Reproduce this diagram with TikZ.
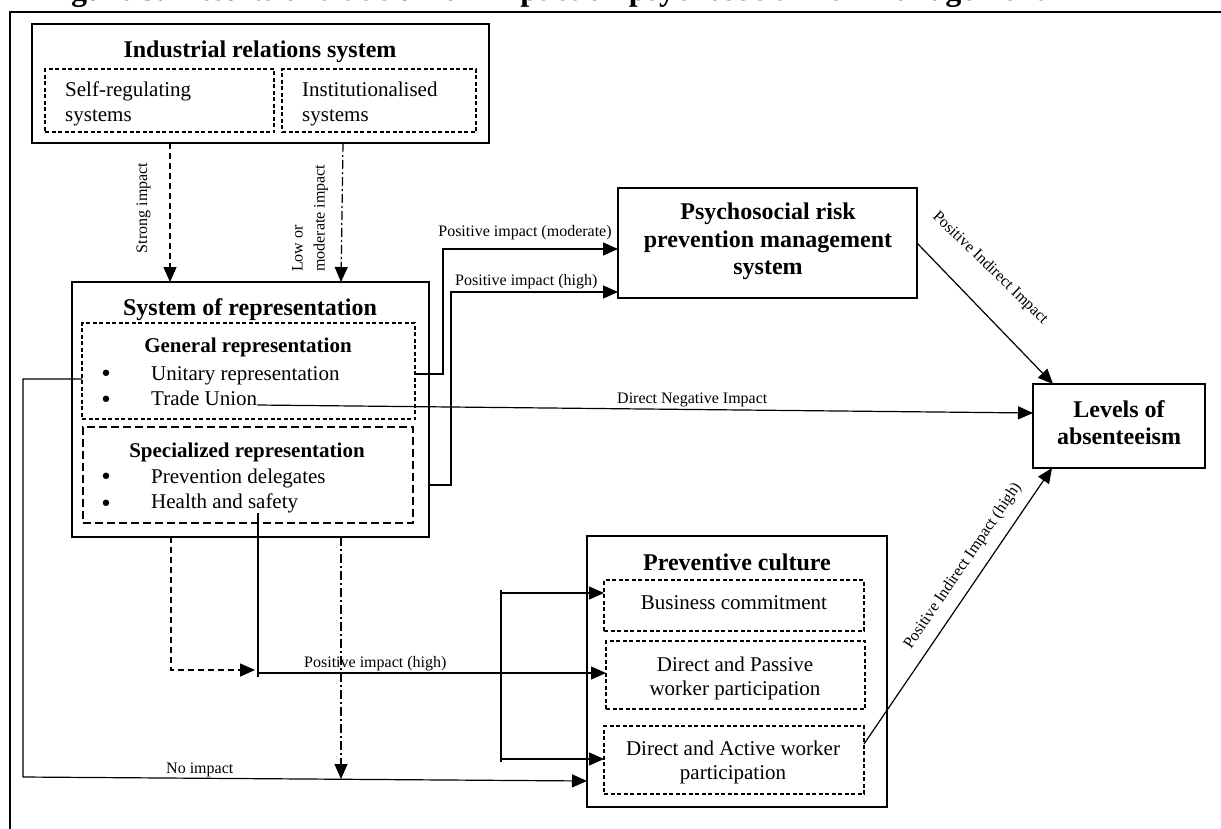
\documentclass[tikz,border=0pt]{standalone}
\usepackage{fontspec}
\setmainfont{Liberation Serif}
\newfontfamily\bulletfont{DejaVu Sans}
\usetikzlibrary{arrows.meta}
\newcommand\rbox[6]{\node[#2, minimum width={#5-#3}, minimum height={#6-#4}] (#1) at ({(#3+#5)/2},{(#4+#6)/2}) {};}
\begin{document}
\begin{tikzpicture}[x=1pt,y=-1pt,
  solidbox/.style={draw, line width=1.4pt, inner sep=0pt, outer sep=0pt},
  dashbox/.style={draw, line width=1.1pt, dash pattern=on 4pt off 2.5pt, inner sep=0pt, outer sep=0pt},
  longdashbox/.style={draw, line width=1.1pt, dash pattern=on 8pt off 4pt, inner sep=0pt, outer sep=0pt},
  conn/.style={line width=1.2pt},
  arr/.style={-{Triangle[length=15pt,width=13pt]}},
  dashconn/.style={conn, dash pattern=on 6pt off 4pt},
  dotconn/.style={conn, dash pattern=on 9pt off 3pt on 2pt off 3pt},
  hd/.style={inner sep=0pt, anchor=base, font=\fontsize{24}{27}\selectfont\bfseries},
  sh/.style={inner sep=0pt, anchor=base, font=\fontsize{21}{25}\selectfont\bfseries},
  bd/.style={inner sep=0pt, anchor=base, font=\fontsize{21}{25}\selectfont},
  bdl/.style={bd, anchor=base west},
  bul/.style={inner sep=0pt, anchor=base, font=\bulletfont\fontsize{22}{24}\selectfont},
  lb/.style={inner sep=0pt, anchor=base, font=\fontsize{16}{20}\selectfont},
  lbl/.style={lb, anchor=base west},
]
\useasboundingbox (0,0) rectangle (1221,828);
\begin{scope}
\clip (0,0) rectangle (1221,828);
\node[inner sep=0pt, anchor=base west, font=\fontsize{32}{36}\selectfont\bfseries] (title) at (42.5,0.5) {Figure 3. Results of trade union impact on psychosocial risk management};
\end{scope}
% frame
\draw[line width=2.6pt] (10,829) -- (10,12) -- (1222,12);
% boxes
\rbox{irs}{solidbox}{32}{24}{489}{143}
\rbox{selfreg}{dashbox}{45}{69}{274}{132}
\rbox{inst}{dashbox}{282}{69}{476}{132}
\rbox{sor}{solidbox}{72}{282}{429}{537}
\rbox{gen}{dashbox}{82}{323}{415}{419}
\rbox{spec}{longdashbox}{83}{427}{413}{523}
\rbox{psy}{solidbox}{618}{188}{917}{298}
\rbox{lev}{solidbox}{1033}{384}{1205}{468}
\rbox{prev}{solidbox}{587}{536}{887}{807}
\rbox{bus}{dashbox}{604}{580}{864}{631}
\rbox{pas}{dashbox}{606}{641}{865}{709}
\rbox{act}{dashbox}{604}{726}{864}{794}
% texts
\node[hd] (irsT) at (260,57) {Industrial relations system};
\node[bdl] (sr1) at (65,96) {Self-regulating};
\node[bdl] (sr2) at (65,121) {systems};
\node[bdl] (in1) at (302,96) {Institutionalised};
\node[bdl] (in2) at (302,121) {systems};
\node[hd] (sorT) at (250,315) {System of representation};
\node[sh] (genT) at (248,352) {General representation};
\node[bul] (b1) at (106,381.5) {•};
\node[bdl] (ur) at (151,380) {Unitary representation};
\node[bul] (b2) at (106,407.5) {•};
\node[bdl] (tu) at (151,405) {Trade Union};
\node[sh] (specT) at (247,457) {Specialized representation};
\node[bul] (b3) at (106,484.5) {•};
\node[bdl] (pd) at (151,483) {Prevention delegates};
\node[bul] (b4) at (106,511.5) {•};
\node[bdl] (hs) at (151,508) {Health and safety};
\node[hd] (psy1) at (768,219) {Psychosocial risk};
\node[hd] (psy2) at (768,247) {prevention management};
\node[hd] (psy3) at (768,274) {system};
\node[hd] (lev1) at (1119,417) {Levels of};
\node[hd] (lev2) at (1119,444) {absenteeism};
\node[hd] (prevT) at (737,570) {Preventive culture};
\node[bd] (busT) at (734,609) {Business commitment};
\node[bd] (pas1) at (735,671) {Direct and Passive};
\node[bd] (pas2) at (735,695) {worker participation};
\node[bd] (act1) at (733,755) {Direct and Active worker};
\node[bd] (act2) at (733,779) {participation};
% labels
\node[lb, rotate=90, anchor=center] (lStrong) at (143.5,208) {Strong impact};
\node[lb, rotate=90, anchor=north west, align=left, font=\fontsize{16}{22}\selectfont] (lLow) at (292,272) {Low or\\moderate impact};
\node[lb] (lMod) at (525,236) {Positive impact (moderate)};
\node[lbl] (lHigh1) at (455,285) {Positive impact (high)};
\node[lbl] (lNeg) at (617,403) {Direct Negative Impact};
\node[lb, rotate=-44, anchor=center] (lInd) at (990,268) {Positive Indirect Impact};
\node[lbl] (lHigh2) at (304,667) {Positive impact (high)};
\node[lbl] (lNo) at (166,773) {No impact};
\node[lb, rotate=55.9, anchor=center] (lIndH) at (963,566) {Positive Indirect Impact (high)};
% connectors
\draw[dashconn, arr] (170,0 |- irs.south) -- (170,0 |- sor.north);
\draw[dotconn, arr] (343,0 |- irs.south) -- (341,0 |- sor.north);
\draw[conn, arr] (gen.east |- 0,374) -- (443,374) -- (443,249) -- (psy.west |- 0,249);
\draw[conn, arr] (sor.east |- 0,485) -- (451,485) -- (451,292) -- (psy.west |- 0,292);
\draw[conn, arr] (tu.base east) -- (lev.west |- 0,413);
\draw[conn, arr] (gen.west |- 0,379) -- (23,379) -- (23,777) -- (prev.west |- 0,781);
\draw[dotconn, arr] (341,0 |- sor.south) -- (341,779);
\draw[dashconn, arr] (171,0 |- sor.south) -- (171,670) -- (255,670);
\draw[conn] (hs.south -| 258,0) -- (258,677);
\draw[conn, arr] (258,673) -- (pas.west |- 0,673);
\draw[conn] (501,590) -- (501,762);
\draw[conn, arr] (501,593) -- (bus.west |- 0,593);
\draw[conn, arr] (501,759) -- (act.west |- 0,759);
\draw[conn, arr] (psy.east |- 0,243) -- (1053,0 |- lev.north);
\draw[conn, arr] (act.east |- 0,744) -- (1052,0 |- lev.south);
\end{tikzpicture}
\end{document}
